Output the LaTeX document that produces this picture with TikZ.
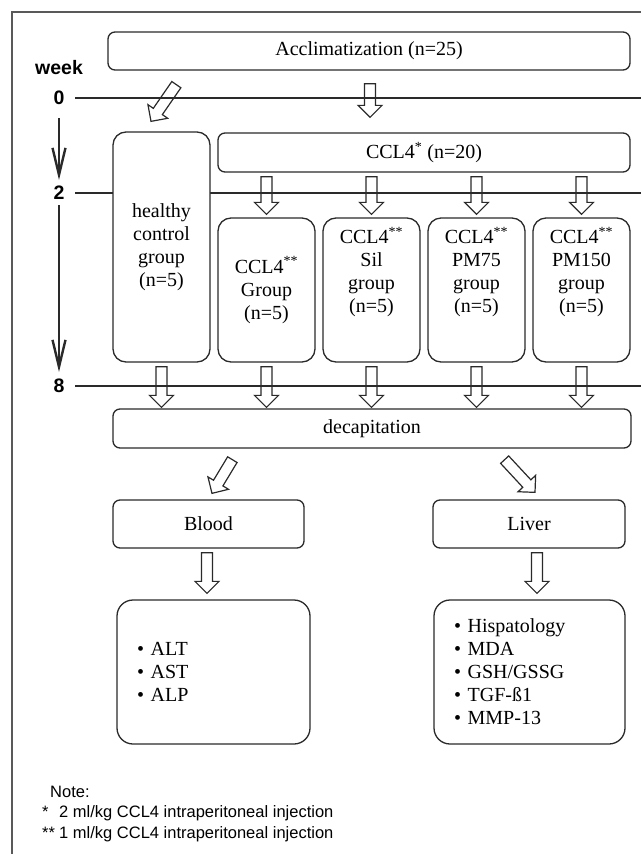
\documentclass[tikz,border=0pt]{standalone}
\usepackage{fontspec}
\setmainfont{Liberation Serif}
\setsansfont{Liberation Sans}
\usetikzlibrary{arrows.meta}
\usetikzlibrary{calc}

\definecolor{ink}{HTML}{2A2A2A}
\tikzset{
  box/.style={draw=ink, line width=1.3pt, fill=white, rounded corners=7pt, inner sep=0pt,
    font=\fontsize{20}{23}\selectfont, align=center},
  grp/.style={box, rounded corners=13pt, minimum width=97pt, minimum height=144pt},
  res/.style={box, rounded corners=16pt, minimum height=144pt, align=left, inner xsep=20pt},
  grptext/.style={font=\fontsize{20}{23}\selectfont, align=center},
  fat/.style={draw=ink, line width=1.2pt, line join=miter, to path={
    let \p1=($(\tikztotarget)-(\tikztostart)$), \n1={atan2(\y1,\x1)} in
    ($(\tikztostart)+({\n1+90}:5.5pt)$) --
    ($(\tikztotarget)+({\n1+180}:12pt)+({\n1+90}:5.5pt)$) --
    ($(\tikztotarget)+({\n1+180}:12pt)+({\n1+90}:12pt)$) --
    (\tikztotarget) --
    ($(\tikztotarget)+({\n1+180}:12pt)+({\n1-90}:12pt)$) --
    ($(\tikztotarget)+({\n1+180}:12pt)+({\n1-90}:5.5pt)$) --
    ($(\tikztostart)+({\n1-90}:5.5pt)$) -- cycle}},
  weeklbl/.style={font=\sffamily\bfseries\fontsize{19.5}{20}\selectfont, inner sep=0pt},
  timeline/.style={draw=ink, line width=2pt},
  axis/.style={draw=ink, line width=1.1pt, -{Straight Barb[length=27pt,width=13pt,line width=2.4pt]}},
  frame/.style={draw=black!65, line width=1.5pt},
  note/.style={font=\sffamily\fontsize{16.5}{20.5}\selectfont, align=left, inner sep=0pt},
}

\begin{document}
\begin{tikzpicture}[x=1pt,y=-1pt]
  \useasboundingbox (0,0) rectangle (641,854);
  \draw[frame] (12,854) -- (12,12) -- (641,12);
  \coordinate (ne) at (641,12);

  \node[weeklbl] (wk) at (59,68) {week};
  \node[weeklbl] (w0) at (59,98) {0};
  \node[weeklbl] (w2) at (59,193) {2};
  \node[weeklbl] (w8) at (59,386) {8};
  \foreach \w in {w0,w2,w8}
    \draw[timeline] ($(\w)+(16,0)$) -- (\w -| ne);
  \draw[axis] ($(w0)+(0,20)$) -- ($(w2)+(0,-13)$);
  \draw[axis] ($(w2)+(0,12)$) -- ($(w8)+(0,-14)$);

  \node[box, minimum width=522pt, minimum height=38pt] (accl) at (369,51) {Acclimatization (n=25)};
  \node[box, rounded corners=13pt, minimum width=97pt, minimum height=230pt] (hc) at (161.5,247)
    {healthy\\control\\group\\(n=5)};
  \node[box, minimum width=412pt, minimum height=39pt] (ccl) at (424,152.5) {CCL4\textsuperscript{*} (n=20)};
  \node[grp] (g1) at (266.5,290) {CCL4\textsuperscript{**}\\Group\\(n=5)};
  \foreach \n/\x/\t in {g2/371.5/Sil, g3/476.5/PM75, g4/581.5/PM150} {
    \node[grp] (\n) at (\x,290) {};
    \node[grptext] at ($(\n)+(0,-18)$) {CCL4\textsuperscript{**}\\\t\\group\\(n=5)};
  }
  \node[box, minimum width=518pt, minimum height=39pt] (dec) at (372,428.5) {decapitation};
  \node[box, minimum width=191pt, minimum height=48pt] (blood) at (208.5,524) {Blood};
  \node[box, minimum width=192pt, minimum height=48pt] (liver) at (529,524) {Liver};
  \node[res, text width=153pt] (bres) at (213.5,672) {• ALT\\• AST\\• ALP};
  \node[res, text width=151pt] (lres) at (529.5,672)
    {• Hispatology\\• MDA\\• GSH/GSSG\\• TGF-ß1\\• MMP-13};

  \draw[fat] ($(accl.south west)+(69,14)$) to ($(hc.north)+(-10.5,-10)$);
  \draw[fat] ($(accl.south)+(1,13)$) to ($(accl.south |- ccl.north)+(1,-15)$);
  \foreach \g in {g1,g2,g3,g4}
    \draw[fat] ($(ccl.south -| \g.north)+(0,4)$) to ($(\g.north)+(0,-3)$);
  \foreach \g in {hc,g1,g2,g3,g4}
    \draw[fat] ($(\g.south)+(0,4)$) to ($(\g.south |- dec.north)+(0,-1)$);
  \draw[fat] ($(dec.south west)+(120,11)$) to ($(blood.north)+(3.5,-6)$);
  \draw[fat] ($(dec.south east)+(-127,11)$) to ($(liver.north)+(6,-7)$);
  \draw[fat] ($(blood.south)+(-1.5,4)$) to ($(blood.south |- bres.north)+(-1.5,-6)$);
  \draw[fat] ($(liver.south)+(8,4)$) to ($(liver.south |- lres.north)+(8,-6)$);

  \node[note, anchor=west] (nt) at (42,814)
    {\hspace*{8pt}Note:\\\makebox[17pt][l]{*}2 ml/kg CCL4 intraperitoneal injection\\
     \makebox[17pt][l]{**}1 ml/kg CCL4 intraperitoneal injection};
\end{tikzpicture}
\end{document}
